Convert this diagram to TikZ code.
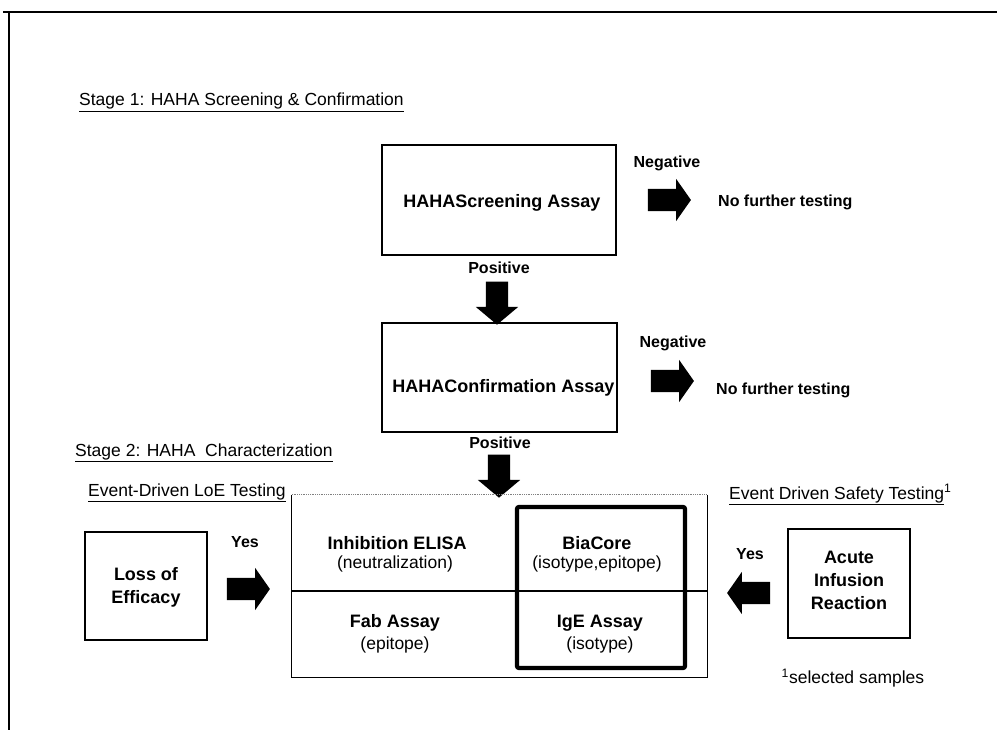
\documentclass[tikz,border=0pt]{standalone}
\usepackage{fontspec}
\setmainfont{Liberation Sans}
\usetikzlibrary{shapes.arrows}
\begin{document}
\begin{tikzpicture}[x=1pt,y=-1pt,
  box/.style={draw,line width=1.2pt,inner sep=0pt},
  lbl/.style={font=\fontsize{16}{19}\selectfont\bfseries,inner sep=0pt},
  btxt/.style={font=\fontsize{18}{23}\selectfont\bfseries,inner sep=0pt,align=center},
  rtxt/.style={font=\fontsize{17.5}{21}\selectfont,inner sep=0pt,align=center},
  headtxt/.style={font=\fontsize{17.5}{21}\selectfont,inner sep=0pt,anchor=base west},
  barrow/.style={single arrow,fill=black,draw=none,inner xsep=0pt,inner ysep=11pt,minimum height=43pt,
    minimum width=42pt,single arrow head extend=10pt,single arrow tip angle=110}]
\useasboundingbox (0,0) rectangle (997,730);
% outer frame
\coordinate (fbl) at (9,730);
\coordinate (ftl) at (9,12);
\coordinate (ftr) at (997,12);
\draw[line width=2pt] (fbl) -- (ftl);
\draw[line width=2.6pt] (3,12) -- (ftr);

% Stage 1
\node[headtxt] (st1) at (79,106) {\underline{Stage 1: HAHA Screening \& Confirmation}};
\node[box,minimum width=234pt,minimum height=110pt] (scr) at (499,200) {};
\node[btxt] (scrt) at (502,203) {HAHAScreening Assay};
\node[lbl] (neg1) at (667,163) {Negative};
\node[barrow] (a1) at (665.5,200) {};
\node[lbl,anchor=west] (nf1) at (718,202) {No further testing};
\node[lbl] (pos1) at (499,268) {Positive};
\node[barrow,rotate=-90,single arrow tip angle=100] (d1) at (497,298.5) {};

\node[box,minimum width=235pt,minimum height=109pt] (conf) at (499.5,377.5) {};
\node[btxt] (conft) at (503.5,388) {HAHAConfirmation Assay};
\node[lbl] (neg2) at (673,343) {Negative};
\node[barrow] (a2) at (668.5,381) {};
\node[lbl,anchor=west] (nf2) at (716,390) {No further testing};
\node[lbl] (pos2) at (500,443) {Positive};
\node[barrow,rotate=-90,single arrow tip angle=100] (d2) at (499,471.5) {};

% Stage 2
\node[headtxt] (st2) at (75,456) {\underline{Stage 2: HAHA\ \ Characterization}};
\node[headtxt] (loel) at (88,496) {\underline{Event-Driven\ LoE Testing}};
\node[headtxt] (safl) at (729,499) {\underline{Event Driven Safety Testing}\textsuperscript{1}};

% main grid
\node[minimum width=415pt,minimum height=182pt,inner sep=0pt] (grid) at (499.5,586) {};
\coordinate (midy) at (0,591);
\draw[line width=1.1pt] (grid.north west) -- (grid.south west) -- (grid.south east) -- (grid.north east);
\draw[line width=0.8pt,densely dotted,gray] (grid.north west) -- (grid.north east);
\draw[line width=1.6pt] (grid.west |- midy) -- (grid.east |- midy);
\node[draw,line width=4.2pt,rounded corners=2pt,minimum width=168pt,minimum height=161pt,inner sep=0pt] (thick) at (601,587.5) {};

\node[btxt] (inh) at (397,543) {Inhibition ELISA};
\node[rtxt] (inh2) at (395,564) {(neutralization)};
\node[btxt] (bia) at (597,543) {BiaCore};
\node[rtxt] (bia2) at (597,564) {(isotype,epitope)};
\node[btxt] (fab) at (395,623) {Fab Assay};
\node[rtxt] (fab2) at (395,645) {(epitope)};
\node[btxt] (ige) at (600,623) {IgE Assay};
\node[rtxt] (ige2) at (600,645) {(isotype)};

% LoE side
\node[box,minimum width=122pt,minimum height=108pt] (loe) at (146,586) {};
\node[btxt] (loet) at (146,587) {Loss of\\Efficacy};
\node[lbl] (yes1) at (245,542) {Yes};
\node[barrow] (l1) at (244.5,589) {};

% Safety side
\node[box,minimum width=122pt,minimum height=109pt] (acu) at (849,583.5) {};
\node[btxt] (acut) at (849,580) {Acute\\Infusion\\Reaction};
\node[lbl] (yes2) at (750,554) {Yes};
\node[barrow,rotate=180] (l2) at (752.5,593) {};

\node[rtxt] (sel) at (853,678) {\textsuperscript{1}selected samples};
\end{tikzpicture}
\end{document}
